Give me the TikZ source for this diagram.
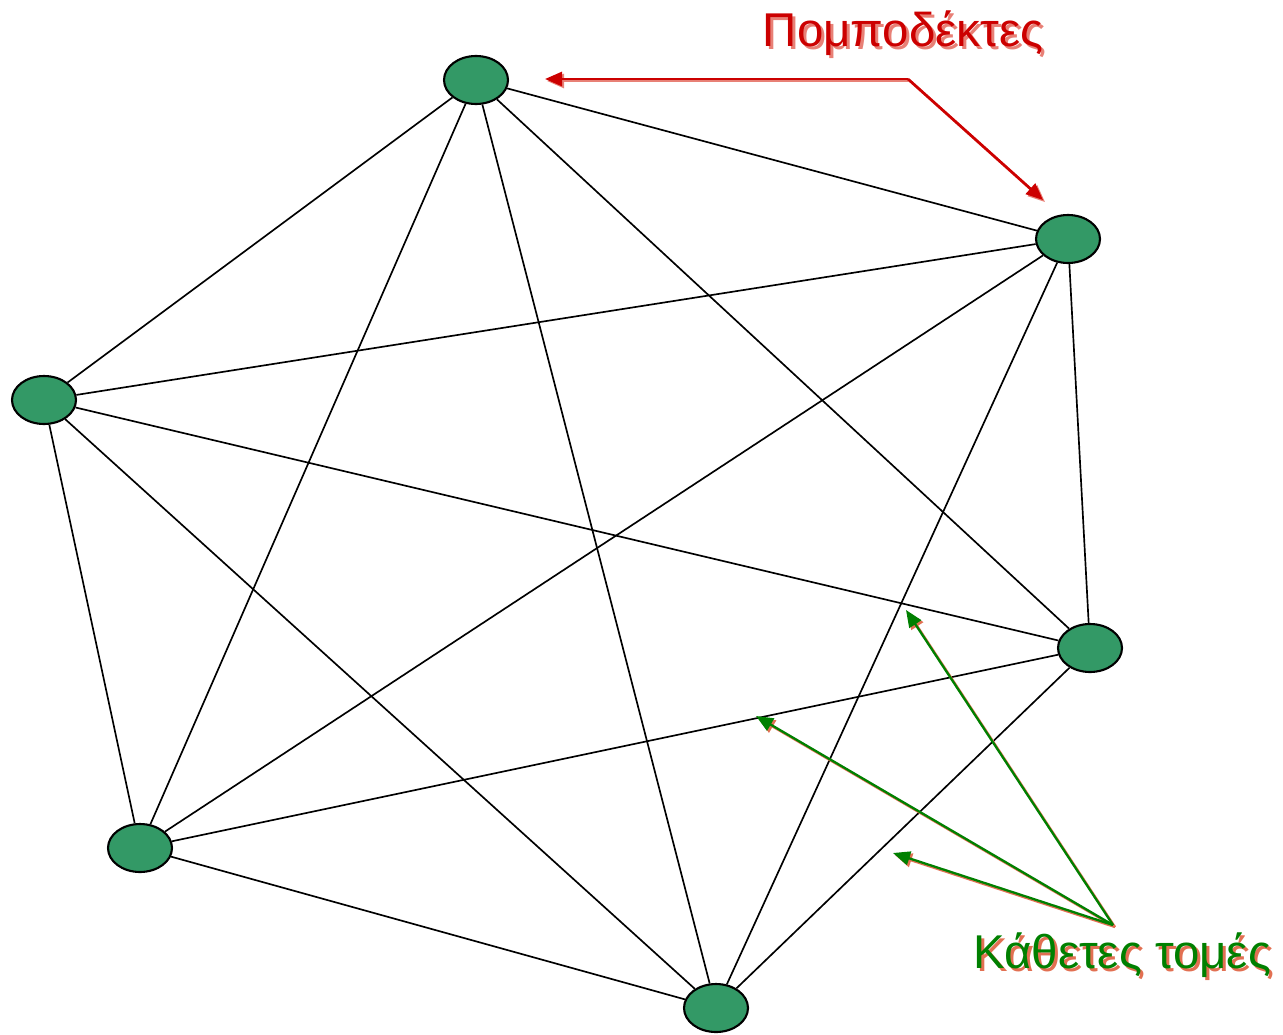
\documentclass[tikz,border=0pt]{standalone}
\usepackage{fontspec}
\setmainfont{Liberation Sans}
\usetikzlibrary{arrows.meta}
\usetikzlibrary{shapes.geometric}
\definecolor{nodegreen}{RGB}{51,153,102}
\definecolor{labelred}{RGB}{204,0,0}
\definecolor{redshade}{RGB}{232,128,118}
\definecolor{labelgreen}{RGB}{0,128,0}
\definecolor{greenshade}{RGB}{226,112,82}
\tikzset{
  station/.style={ellipse, draw=black, line width=1.2pt, fill=nodegreen,
    minimum width=1.28cm, minimum height=0.96cm, inner sep=0pt},
  link/.style={line width=0.95pt},
  caption/.style={anchor=base, inner sep=0pt, font=\fontsize{27}{30}\selectfont},
  pointer/.style={line width=1.5pt, -{Triangle[length=0.34cm,width=0.28cm]}}
}

\begin{document}
\begin{tikzpicture}[x=0.02cm, y=-0.02cm]
    \useasboundingbox (0, 0) rectangle (1283, 1034);

    % the six stations
    \node [station] (top) at (476, 80) {};
    \node [station] (upright) at (1068, 239) {};
    \node [station] (left) at (44, 400) {};
    \node [station] (lowright) at (1090, 648) {};
    \node [station] (lowleft) at (140, 848) {};
    \node [station] (bottom) at (716, 1008) {};

    % every pair is linked
    \foreach \a/\b in {top/upright, top/left, top/lowright, top/lowleft, top/bottom,
                       upright/left, upright/lowright, upright/lowleft, upright/bottom,
                       left/lowright, left/lowleft, left/bottom,
                       lowright/lowleft, lowright/bottom, lowleft/bottom}
        \draw [link] (\a) -- (\b);

    % transceiver label
    \coordinate (pbend) at (908, 79);
    \coordinate (ptipa) at (545, 79);
    \coordinate (ptipb) at (1043, 200);
    \node [caption, text=redshade] (pshade) at (906, 50) {Πομποδέκτες};
    \node [caption, text=labelred] (ptext) at (903, 47) {Πομποδέκτες};
    \draw [pointer, redshade] ([shift={(2, 2)}]pbend) -- ([shift={(2, 2)}]ptipa);
    \draw [pointer, redshade] ([shift={(2, 2)}]pbend) -- ([shift={(2, 2)}]ptipb);
    \draw [pointer, labelred] (pbend) -- (ptipa);
    \draw [pointer, labelred] (pbend) -- (ptipb);

    % cross section label
    \coordinate (kroot) at (1113, 925);
    \coordinate (ktipa) at (906, 610);
    \coordinate (ktipb) at (756, 716);
    \coordinate (ktipc) at (893, 853);
    \node [caption, text=greenshade] (kshade) at (1125, 971) {Κάθετες τομές};
    \node [caption, text=labelgreen] (ktext) at (1122, 968) {Κάθετες τομές};
    \foreach \t in {ktipa, ktipb, ktipc}
        \draw [pointer, line width=1.3pt, greenshade] ([shift={(2, 2)}]kroot) -- ([shift={(2, 2)}]\t);
    \foreach \t in {ktipa, ktipb, ktipc}
        \draw [pointer, line width=1.3pt, labelgreen] (kroot) -- (\t);
\end{tikzpicture}
\end{document}
